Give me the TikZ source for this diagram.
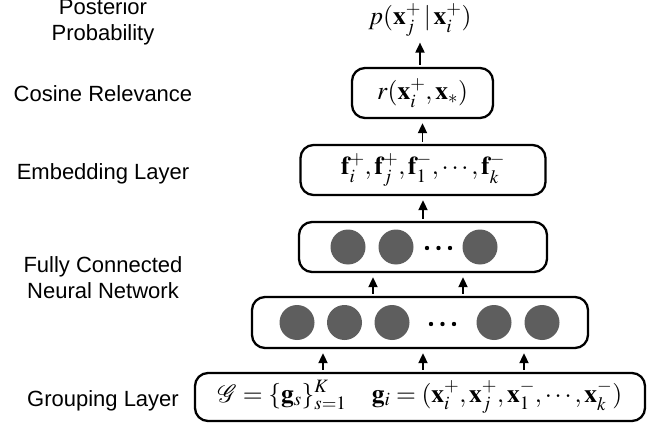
\documentclass[tikz,border=0pt]{standalone}
\usepackage{mathptmx}
\usepackage{mathrsfs}
\usepackage[no-math]{fontspec}
\newfontfamily\labelfont{Liberation Sans}
\usetikzlibrary{arrows.meta}
\definecolor{neurongray}{HTML}{5E5E5E}
\begin{document}
\begin{tikzpicture}[x=1pt,y=-1pt,
  layerbox/.style={draw, line width=2.3pt, rounded corners=13pt, inner sep=0pt},
  neuron/.style={circle, fill=neurongray, minimum size=35pt, inner sep=0pt},
  dotc/.style={circle, fill=black, minimum size=4.4pt, inner sep=0pt},
  arr/.style={-{Triangle[length=10pt,width=9pt]}, line width=1.8pt, shorten <=2pt, shorten >=4pt},
  lbl/.style={font=\labelfont\fontsize{22}{26}\selectfont, align=center},
  mfont/.style={font=\fontsize{25.5}{30}\selectfont},
  mtxt/.style={mfont, inner sep=2pt}]
\useasboundingbox (0,0) rectangle (657,423);

% left labels
\node[lbl] (lpost) at (103,22) {Posterior\\Probability};
\node[lbl] (lcos) at (103,94) {Cosine Relevance};
\node[lbl] (lemb) at (103,174) {Embedding Layer};
\node[lbl] (lfc) at (103,278) {Fully Connected\\Neural Network};
\node[lbl] (lgrp) at (103,401) {Grouping Layer};

% top output
\node[mtxt] (post) at (420,20) {$p(\mathbf{x}_j^+\,|\,\mathbf{x}_i^+)$};

% boxes
\node[layerbox, mfont, minimum width=141pt, minimum height=50pt] (cos) at (422.5,93) {$r(\mathbf{x}_i^+,\mathbf{x}_\ast)$};
\node[layerbox, mfont, minimum width=245pt, minimum height=50pt] (emb) at (423,170) {$\mathbf{f}_i^+,\mathbf{f}_j^+,\mathbf{f}_1^-,\cdots,\mathbf{f}_k^-$};
\node[layerbox, minimum width=248pt, minimum height=50pt] (fcA) at (423,247) {};
\node[layerbox, minimum width=336pt, minimum height=51pt] (fcB) at (420,322.5) {};
\node[layerbox, mfont, minimum width=450pt, minimum height=48pt] (grp) at (420,397) {$\mathscr{G}=\{\mathbf{g}_s\}_{s=1}^K\quad \mathbf{g}_i=(\mathbf{x}_i^+,\mathbf{x}_j^+,\mathbf{x}_1^-,\cdots,\mathbf{x}_k^-)$};

% neurons, upper layer
\node[neuron] (a1) at (348,247) {};
\node[neuron] (a2) at (396,247) {};
\node[neuron] (a3) at (480,247) {};
\node[dotc] (ad1) at (427,248) {};
\node[dotc] (ad2) at (438.5,248) {};
\node[dotc] (ad3) at (450,248) {};

% neurons, lower layer
\node[neuron] (b1) at (297,322.5) {};
\node[neuron] (b2) at (344.5,322.5) {};
\node[neuron] (b3) at (392,322.5) {};
\node[neuron] (b4) at (494,322.5) {};
\node[neuron] (b5) at (542,322.5) {};
\node[dotc] (bd1) at (431,324) {};
\node[dotc] (bd2) at (442.5,324) {};
\node[dotc] (bd3) at (454,324) {};

% arrow columns
\coordinate (cA) at (373,0);
\coordinate (cB) at (463,0);
\coordinate (cG1) at (323,0);
\coordinate (cG2) at (423,0);
\coordinate (cG3) at (524,0);

% arrows
\draw[arr] (cos.north -| post.south) -- (post.south);
\draw[arr] (emb.north -| cos.south) -- (cos.south);
\draw[arr] (fcA.north -| emb.south) -- (emb.south);
\draw[arr] (fcB.north -| cA) -- (fcA.south -| cA);
\draw[arr] (fcB.north -| cB) -- (fcA.south -| cB);
\draw[arr] (grp.north -| cG1) -- (fcB.south -| cG1);
\draw[arr] (grp.north -| cG2) -- (fcB.south -| cG2);
\draw[arr] (grp.north -| cG3) -- (fcB.south -| cG3);
\end{tikzpicture}
\end{document}
